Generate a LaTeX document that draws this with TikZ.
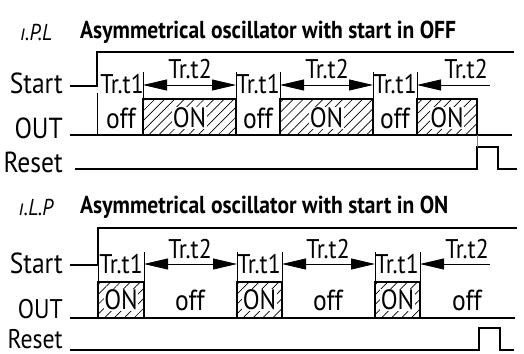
\documentclass[tikz,border=0pt]{standalone}
\usepackage{fontspec}
\setmainfont[FakeStretch=0.88]{PT Sans}
\usetikzlibrary{arrows.meta,patterns.meta,positioning}
\tikzset{
    x=1pt, y=-1pt,
    >={Triangle[length=24pt,width=11pt]},
    sig/.style={line width=1.6pt},
    thick sig/.style={line width=2pt},
    tick line/.style={line width=0.6pt},
    dim/.style={line width=0.8pt},
    lbl/.style={font=\fontsize{29}{32}\selectfont, inner sep=0pt},
    small lbl/.style={font=\fontsize{27}{30}\selectfont, inner sep=0pt},
    ttl/.style={font=\bfseries\fontsize{24.5}{28}\selectfont, inner sep=0pt, anchor=west},
    seg/.style={font=\itshape\fontsize{23}{26}\selectfont, inner sep=0pt},
    onbox/.style={pattern={Lines[angle=45,distance=7pt,line width=0.7pt]}, line width=1.4pt},
    ontext/.style={font=\fontsize{28}{30}\selectfont, fill=white, inner sep=0.5pt},
}

\begin{document}
\begin{tikzpicture}
    \useasboundingbox (0,0) rectangle (524,353);

    % start in OFF
    \node[seg] (pl) at (36,32) {ı.P.L};
    \node[ttl] (ttl1) at (80,32) {Asymmetrical oscillator with start in OFF};
    \node[lbl, anchor=east] (start1) at (63,83) {Start};
    \node[lbl, anchor=east] (out1) at (63,128) {OUT};
    \node[lbl, anchor=east] (reset1) at (63,162) {Reset};

    \draw[thick sig] (70,86) -- (97,86) -- (97,52) -- (514,52);
    \draw[sig] (70,135) -- (512,135);
    \draw[onbox] (143,99) rectangle (236,135);
    \draw[onbox] (280,99) rectangle (373,135);
    \draw[onbox] (417,99) rectangle (477,135);
    \draw[sig] (75,169) -- (477,169) -- (477,147) -- (498,147) -- (498,169) -- (517,169);

    \coordinate (a1) at (143,72);
    \coordinate (a2) at (236,72);
    \coordinate (a3) at (280,72);
    \coordinate (a4) at (373,72);
    \coordinate (a5) at (417,72);
    \coordinate (a6) at (490,85);
    \draw[tick line] (97,93) -- (97,135);
    \draw[tick line] (a1) -- (143,99) (a2) -- (236,99) (a3) -- (280,99)
        (a4) -- (373,99) (a5) -- (417,99);
    \draw[tick line, gray] (477,135) -- (477,147);
    \draw[dim, <->] ([yshift=-13pt]a1) -- ([yshift=-13pt]a2);
    \draw[dim, <->] ([yshift=-13pt]a3) -- ([yshift=-13pt]a4);
    \draw[dim, ->] (a6) -- ([yshift=-13pt]a5);

    \node[small lbl] (t11) at (122,84) {Tr.t1};
    \node[small lbl] (t12) at (258,84) {Tr.t1};
    \node[small lbl] (t13) at (395,84) {Tr.t1};
    \node[small lbl] (t21) at (190,69) {Tr.t2};
    \node[small lbl] (t22) at (327,69) {Tr.t2};
    \node[small lbl] (t23) at (466,69) {Tr.t2};
    \node[lbl] (off1) at (121,118) {off};
    \node[lbl] (off2) at (258,118) {off};
    \node[lbl] (off3) at (395,118) {off};
    \node[ontext] (on1) at (189.5,118) {ON};
    \node[ontext] (on2) at (326.5,118) {ON};
    \node[ontext] (on3) at (447,118) {ON};

    % start in ON
    \node[seg] (lp) at (36,207) {ı.L.P};
    \node[ttl] (ttl2) at (80,207) {Asymmetrical oscillator with start in ON};
    \node[lbl, anchor=east] (start2) at (63,263) {Start};
    \node[lbl, anchor=east, font=\fontsize{27}{30}\selectfont] (out2) at (63,309) {OUT};
    \node[lbl, anchor=east, font=\fontsize{27}{30}\selectfont] (reset2) at (63,339) {Reset};

    \draw[thick sig] (70,265) -- (98,265) -- (98,228) -- (517,228);
    \draw[sig] (70,318) -- (515,318);
    \draw[onbox] (98,282) rectangle (144,318);
    \draw[onbox] (237,282) rectangle (282,318);
    \draw[onbox] (375,282) rectangle (420,318);
    \draw[sig] (70,350) -- (479,350) -- (479,328) -- (500,328) -- (500,350) -- (514,350);

    \coordinate (b1) at (144,252);
    \coordinate (b2) at (237,252);
    \coordinate (b3) at (282,252);
    \coordinate (b4) at (375,252);
    \coordinate (b5) at (420,252);
    \coordinate (b6) at (490,264);
    \draw[tick line] (98,265) -- (98,282);
    \draw[tick line] (b1) -- (144,282) (b2) -- (237,282) (b3) -- (282,282)
        (b4) -- (375,282) (b5) -- (420,282);
    \draw[dim, <->] ([yshift=-12pt]b1) -- ([yshift=-12pt]b2);
    \draw[dim, <->] ([yshift=-12pt]b3) -- ([yshift=-12pt]b4);
    \draw[dim, ->] (b6) -- ([yshift=-12pt]b5);

    \node[small lbl] (s11) at (121,264) {Tr.t1};
    \node[small lbl] (s12) at (259,264) {Tr.t1};
    \node[small lbl] (s13) at (397,264) {Tr.t1};
    \node[small lbl] (s21) at (190,249) {Tr.t2};
    \node[small lbl] (s22) at (328,249) {Tr.t2};
    \node[small lbl] (s23) at (467,249) {Tr.t2};
    \node[ontext] (on4) at (121,300) {ON};
    \node[ontext] (on5) at (259.5,300) {ON};
    \node[ontext] (on6) at (397.5,300) {ON};
    \node[lbl] (off4) at (190,300) {off};
    \node[lbl] (off5) at (328,300) {off};
    \node[lbl] (off6) at (467,300) {off};
\end{tikzpicture}
\end{document}
